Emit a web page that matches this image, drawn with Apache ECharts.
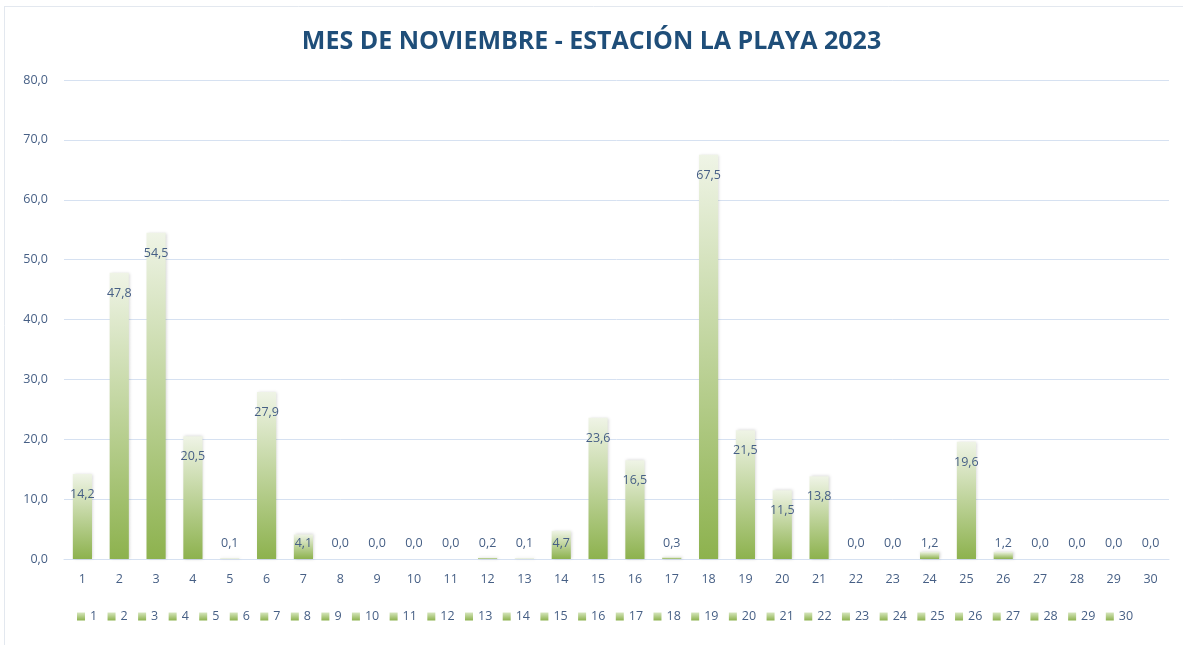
<!DOCTYPE html>
<html>
<head>
<meta charset="utf-8">
<script src="https://cdn.jsdelivr.net/npm/echarts@6/dist/echarts.min.js"></script>
<style>
html,body{margin:0;padding:0;background:#fff;}
#chart{width:1183px;height:645px;}
</style>
</head>
<body>
<div id="chart"></div>
<script>
const titleText = 'MES DE NOVIEMBRE - ESTACIÓN LA PLAYA 2023';
const categories = ['1','2','3','4','5','6','7','8','9','10','11','12','13','14','15','16','17','18','19','20','21','22','23','24','25','26','27','28','29','30'];
const values = [14.2,47.8,54.5,20.5,0.1,27.9,4.1,0.0,0.0,0.0,0.0,0.2,0.1,4.7,23.6,16.5,0.3,67.5,21.5,11.5,13.8,0.0,0.0,1.2,19.6,1.2,0.0,0.0,0.0,0.0];
const yMin = 0, yMax = 80, yStep = 10;

const fmt = v => Number(v).toFixed(1).replace('.', ',');
const txt = '#465f85';
const fam = 'Open Sans';
const barGrad = new echarts.graphic.LinearGradient(0,0,0,1,[
  {offset:0,color:'#eff4e6'},
  {offset:1,color:'#8db24e'}
]);
const iconGrad = new echarts.graphic.LinearGradient(0,0,0,1,[
  {offset:0,color:'#d6e6bd'},
  {offset:1,color:'#8db24e'}
]);

const series = categories.map((c, i) => ({
  name: c,
  type: 'bar',
  stack: 'all',
  barWidth: '52%',
  itemStyle: {color: barGrad, shadowBlur: 3, shadowColor: 'rgba(0,0,0,0.18)', shadowOffsetX: 1},
  data: categories.map((_, j) => {
    if (j !== i) return '-';
    const v = values[j];
    const big = v >= 6.2;
    return {
      value: v,
      label: {
        show: true,
        position: big ? 'insideTop' : 'insideBottom',
        distance: big ? 14 : 9,
        formatter: p => fmt(p.value),
        color: txt,
        fontSize: 12.5,
        fontFamily: fam
      }
    };
  })
}));

const chart = echarts.init(document.getElementById('chart'));
chart.setOption({
  animation: false,
  backgroundColor: '#fff',
  title: {
    text: titleText,
    left: 'center',
    top: 24,
    textStyle: {color: '#1f4e79', fontSize: 25, fontWeight: 'bold', fontFamily: fam}
  },
  grid: {left: 64, right: 14, top: 80, bottom: 86, containLabel: false},
  legend: {
    bottom: 17,
    left: 72,
    itemWidth: 8,
    itemHeight: 8,
    itemGap: 10.4,
    icon: 'rect',
    data: categories.map(c => ({name: c, itemStyle: {color: iconGrad, shadowBlur: 0}})),
    textStyle: {color: txt, fontSize: 12.5, fontFamily: fam}
  },
  xAxis: {
    type: 'category',
    data: categories,
    axisLine: {show: true, lineStyle: {color: '#d6e1f1', width: 1}},
    axisTick: {show: false},
    axisLabel: {color: txt, fontSize: 12.5, fontFamily: fam, margin: 14}
  },
  yAxis: {
    type: 'value',
    min: yMin, max: yMax, interval: yStep,
    axisLine: {show: false},
    axisTick: {show: false},
    axisLabel: {color: txt, fontSize: 12.5, fontFamily: fam, margin: 16, formatter: v => fmt(v)},
    splitLine: {lineStyle: {color: '#d6e1f1', width: 1}}
  },
  graphic: [
    {type: 'line', shape: {x1: 4.5, y1: 6, x2: 4.5, y2: 645}, style: {stroke: '#e3e8ef', lineWidth: 1}, silent: true},
    {type: 'line', shape: {x1: 4, y1: 6.5, x2: 1183, y2: 6.5}, style: {stroke: '#e3e8ef', lineWidth: 1}, silent: true}
  ],
  series: series
});
</script>
</body>
</html>
